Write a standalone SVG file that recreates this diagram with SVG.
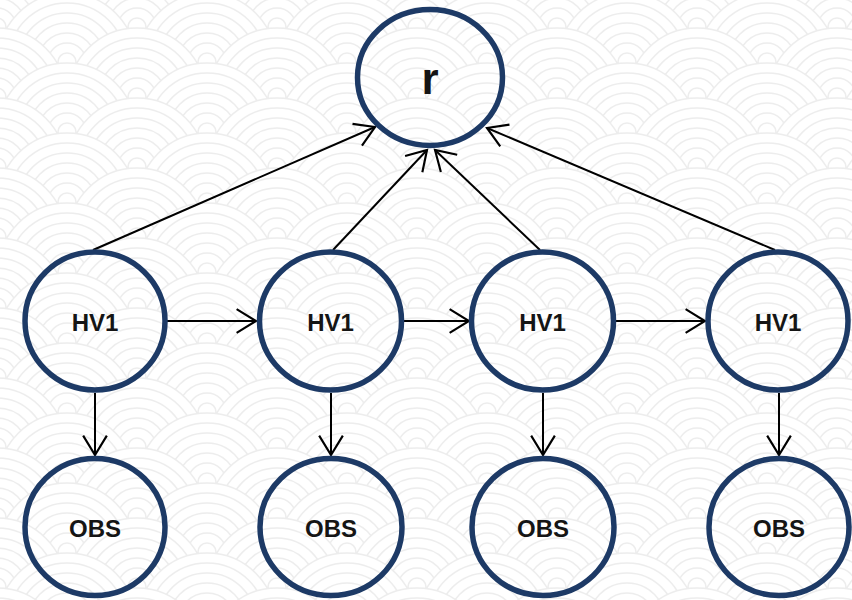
<svg xmlns="http://www.w3.org/2000/svg" width="852" height="600" viewBox="0 0 852 600">
  <style>
    .node { fill: none; stroke: #1d3a66; stroke-width: 5.5; }
    .lbl { font-family: "Liberation Sans", Arial, sans-serif; font-weight: bold; font-size: 24px; fill: #151515; text-anchor: middle; }
    .big { font-size: 44px; }
    .edge { stroke: #000; stroke-width: 2; fill: none; marker-end: url(#arr); }
    .ring { fill: #fff; stroke: #ededed; stroke-width: 1.5; }
  </style>
  <defs>
    <marker id="arr" markerUnits="userSpaceOnUse" markerWidth="24" markerHeight="28" viewBox="-20 -13 22 26" refX="0" refY="0" orient="auto">
      <path d="M-18,-11 L0,0 L-18,11" fill="none" stroke="#000" stroke-width="2"/>
    </marker>
    <g id="scale">
      <circle r="69" class="ring"/>
      <circle r="59" class="ring"/>
      <circle r="49" class="ring"/>
      <circle r="39" class="ring"/>
      <circle r="29" class="ring"/>
      <circle r="19" class="ring"/>
      <circle r="9" class="ring"/>
    </g>
    <pattern id="waves" patternUnits="userSpaceOnUse" x="-3" y="27" width="140" height="70">
      <rect width="140" height="70" fill="#fff"/>
      <use href="#scale" x="0" y="0"/>
      <use href="#scale" x="140" y="0"/>
      <use href="#scale" x="70" y="35"/>
      <use href="#scale" x="0" y="70"/>
      <use href="#scale" x="140" y="70"/>
      <use href="#scale" x="70" y="105"/>
    </pattern>
  </defs>

  <rect width="852" height="600" fill="url(#waves)"/>

  <g id="connectors">
    <line class="edge" x1="93" y1="250" x2="375" y2="127"/>
    <line class="edge" x1="333" y1="250" x2="427" y2="150"/>
    <line class="edge" x1="540" y1="250" x2="435" y2="150"/>
    <line class="edge" x1="775" y1="250" x2="487" y2="128"/>
    <line class="edge" x1="167" y1="321" x2="256" y2="321"/>
    <line class="edge" x1="404" y1="321" x2="469" y2="321"/>
    <line class="edge" x1="616" y1="321" x2="705" y2="321"/>
    <line class="edge" x1="95" y1="393" x2="95" y2="455"/>
    <line class="edge" x1="331" y1="393" x2="331" y2="455"/>
    <line class="edge" x1="543" y1="393" x2="543" y2="455"/>
    <line class="edge" x1="779" y1="393" x2="779" y2="455"/>
  </g>

  <g id="node-r">
    <ellipse class="node" cx="430" cy="77.5" rx="72.5" ry="68"/>
    <text class="lbl big" x="430" y="94">r</text>
  </g>

  <g id="node-hv1-1">
    <ellipse class="node" cx="95" cy="321" rx="70" ry="69"/>
    <text class="lbl" x="95" y="331">HV1</text>
  </g>
  <g id="node-hv1-2">
    <ellipse class="node" cx="330.5" cy="321" rx="71" ry="69"/>
    <text class="lbl" x="330.5" y="331">HV1</text>
  </g>
  <g id="node-hv1-3">
    <ellipse class="node" cx="542.5" cy="321" rx="71" ry="69"/>
    <text class="lbl" x="542.5" y="331">HV1</text>
  </g>
  <g id="node-hv1-4">
    <ellipse class="node" cx="778" cy="321" rx="70" ry="69"/>
    <text class="lbl" x="778" y="331">HV1</text>
  </g>

  <g id="node-obs-1">
    <ellipse class="node" cx="95" cy="527" rx="70" ry="68.5"/>
    <text class="lbl" x="95" y="537">OBS</text>
  </g>
  <g id="node-obs-2">
    <ellipse class="node" cx="331" cy="527" rx="71" ry="68.5"/>
    <text class="lbl" x="331" y="537">OBS</text>
  </g>
  <g id="node-obs-3">
    <ellipse class="node" cx="543" cy="527" rx="71" ry="68.5"/>
    <text class="lbl" x="543" y="537">OBS</text>
  </g>
  <g id="node-obs-4">
    <ellipse class="node" cx="779" cy="527" rx="70" ry="68.5"/>
    <text class="lbl" x="779" y="537">OBS</text>
  </g>
</svg>
